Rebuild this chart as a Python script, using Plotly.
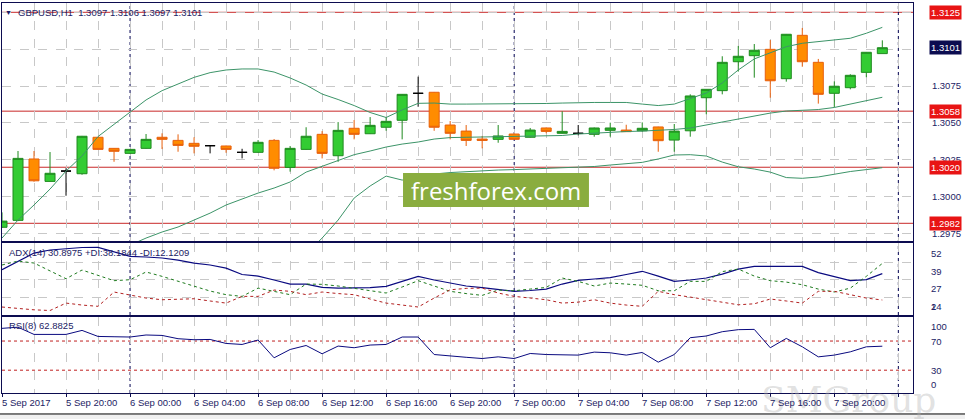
import pandas as pd
import plotly.graph_objects as go
from plotly.subplots import make_subplots

# GBPUSD H1, one bar per hour from 5 Sep 16:00 to 7 Sep 23:00
times = pd.date_range("2017-09-05 16:00", periods=56, freq="h")

opens = [1.29793, 1.29840, 1.30256, 1.30104, 1.30174, 1.30156, 1.30403, 1.30328, 1.30294, 1.30328,
         1.30403, 1.30382, 1.30362, 1.30346, 1.30344, 1.30301, 1.30301, 1.30382, 1.30199, 1.30321,
         1.30423, 1.30278, 1.30464, 1.30427, 1.30471, 1.30518, 1.30701, 1.30708, 1.30486, 1.30445,
         1.30391, 1.30389, 1.30425, 1.30403, 1.30466, 1.30430, 1.30430, 1.30423, 1.30450, 1.30452,
         1.30447, 1.30473, 1.30384, 1.30447, 1.30671, 1.30719, 1.30915, 1.30956, 1.30999, 1.30800,
         1.31094, 1.30911, 1.30701, 1.30739, 1.30843, 1.30970]
highs = [1.29894, 1.30310, 1.30310, 1.30303, 1.30193, 1.30412, 1.30405, 1.30330, 1.30323, 1.30425,
         1.30430, 1.30423, 1.30403, 1.30346, 1.30346, 1.30325, 1.30384, 1.30391, 1.30344, 1.30471,
         1.30445, 1.30506, 1.30520, 1.30540, 1.30540, 1.30696, 1.30814, 1.30710, 1.30513, 1.30486,
         1.30412, 1.30486, 1.30427, 1.30466, 1.30469, 1.30579, 1.30486, 1.30469, 1.30502, 1.30488,
         1.30504, 1.30475, 1.30493, 1.30694, 1.30730, 1.30952, 1.31022, 1.31035, 1.31062, 1.31103,
         1.31144, 1.30934, 1.30782, 1.30830, 1.30981, 1.31060]
lows = [1.29788, 1.29835, 1.30102, 1.30103, 1.30007, 1.30149, 1.30318, 1.30237, 1.30290, 1.30326,
        1.30323, 1.30305, 1.30294, 1.30294, 1.30298, 1.30260, 1.30299, 1.30179, 1.30170, 1.30319,
        1.30260, 1.30237, 1.30389, 1.30425, 1.30447, 1.30389, 1.30610, 1.30447, 1.30389, 1.30344,
        1.30328, 1.30366, 1.30387, 1.30401, 1.30430, 1.30428, 1.30416, 1.30407, 1.30407, 1.30441,
        1.30441, 1.30305, 1.30305, 1.30407, 1.30559, 1.30694, 1.30848, 1.30807, 1.30671, 1.30780,
        1.30881, 1.30631, 1.30606, 1.30728, 1.30810, 1.30970]
closes = [1.29835, 1.30260, 1.30108, 1.30159, 1.30174, 1.30410, 1.30321, 1.30308, 1.30321, 1.30389,
          1.30389, 1.30348, 1.30342, 1.30346, 1.30321, 1.30301, 1.30369, 1.30193, 1.30328, 1.30410,
          1.30294, 1.30450, 1.30423, 1.30484, 1.30511, 1.30694, 1.30701, 1.30471, 1.30430, 1.30382,
          1.30382, 1.30412, 1.30389, 1.30452, 1.30443, 1.30443, 1.30430, 1.30466, 1.30466, 1.30441,
          1.30464, 1.30380, 1.30445, 1.30683, 1.30728, 1.30911, 1.30952, 1.30993, 1.30786, 1.31101,
          1.30915, 1.30694, 1.30749, 1.30823, 1.30979, 1.31010]

# Bollinger bands
bb_upper = [1.29720, 1.29842, 1.29944, 1.30052, 1.30174, 1.30276, 1.30408, 1.30492, 1.30576, 1.30656,
            1.30719, 1.30764, 1.30809, 1.30841, 1.30859, 1.30866, 1.30866, 1.30845, 1.30805, 1.30757,
            1.30696, 1.30659, 1.30618, 1.30571, 1.30537, 1.30588, 1.30633, 1.30635, 1.30628, 1.30628,
            1.30628, 1.30628, 1.30628, 1.30628, 1.30632, 1.30635, 1.30639, 1.30639, 1.30639, 1.30639,
            1.30628, 1.30618, 1.30628, 1.30667, 1.30703, 1.30771, 1.30859, 1.30934, 1.30974, 1.31017,
            1.31040, 1.31051, 1.31062, 1.31074, 1.31108, 1.31148]
bb_middle = [None] * 8 + [
            1.29672, 1.29720,
            1.29761, 1.29795, 1.29842, 1.29889, 1.29944, 1.29984, 1.30025, 1.30059, 1.30100, 1.30167,
            1.30208, 1.30249, 1.30285, 1.30310, 1.30337, 1.30357, 1.30371, 1.30391, 1.30401, 1.30403,
            1.30405, 1.30405, 1.30407, 1.30409, 1.30412, 1.30415, 1.30425, 1.30432, 1.30439, 1.30442,
            1.30445, 1.30449, 1.30456, 1.30466, 1.30486, 1.30506, 1.30527, 1.30547, 1.30567, 1.30581,
            1.30588, 1.30591, 1.30605, 1.30628, 1.30649, 1.30674]
bb_lower = [None] * 19 + [
            1.29612,
            1.29720, 1.29842, 1.29991, 1.30073, 1.30140, 1.30113, 1.30134, 1.30154, 1.30164, 1.30171,
            1.30178, 1.30181, 1.30184, 1.30188, 1.30191, 1.30195, 1.30198, 1.30205, 1.30215, 1.30225,
            1.30233, 1.30256, 1.30283, 1.30285, 1.30276, 1.30235, 1.30203, 1.30188, 1.30167, 1.30130,
            1.30125, 1.30134, 1.30154, 1.30171, 1.30184, 1.30197]

adx = [33.7, 39.9, 45.6, 47.8, 48.5, 49.6, 49.7, 46.4, 43.3, 42.8,
       42.1, 40.6, 38.5, 37.1, 34.9, 30.3, 29.2, 26.4, 23.5, 23.5,
       21.1, 20.6, 20.6, 21.0, 21.9, 25.6, 29.0, 26.4, 24.2, 22.1,
       21.0, 19.9, 18.3, 18.9, 19.9, 23.5, 26.1, 27.1, 28.1, 30.3,
       32.6, 29.2, 25.4, 26.4, 27.8, 30.6, 34.2, 36.1, 36.1, 36.1,
       36.1, 31.7, 28.9, 26.0, 26.7, 30.9]
plus_di = [37.1, 39.9, 38.5, 32.8, 27.3, 33.5, 29.9, 25.9, 26.6, 32.1,
           29.0, 25.6, 22.1, 18.5, 15.9, 14.7, 20.6, 18.1, 15.9, 23.5,
           23.3, 22.1, 20.6, 18.9, 17.1, 21.4, 25.9, 22.1, 18.3, 16.7,
           15.4, 19.2, 18.7, 19.9, 21.1, 27.8, 25.4, 22.1, 24.2, 23.5,
           22.6, 18.7, 18.7, 25.4, 25.4, 32.4, 34.2, 29.2, 25.9, 24.9,
           23.0, 19.9, 17.8, 20.6, 29.0, 38.2]
minus_di = [7.1, 6.0, 5.1, 4.6, 9.9, 8.5, 7.6, 17.8, 15.4, 13.5,
            12.3, 12.8, 13.0, 11.4, 9.9, 14.7, 14.7, 19.2, 18.3, 15.9,
            17.8, 16.7, 15.9, 12.8, 9.9, 8.5, 7.1, 13.5, 19.4, 20.4,
            20.6, 17.1, 14.7, 13.5, 12.3, 9.9, 10.6, 12.3, 9.9, 8.5,
            7.6, 18.3, 15.9, 14.2, 12.3, 10.6, 8.7, 9.4, 12.8, 11.4,
            9.9, 18.3, 18.3, 15.9, 13.5, 12.1]
rsi = [87.4, 89.0, 79.1, 79.1, 79.1, 84.6, 76.3, 75.9, 75.5, 78.3,
       77.7, 73.2, 71.8, 72.2, 66.7, 65.3, 71.4, 47.0, 58.4, 63.9,
       52.5, 63.1, 60.8, 64.5, 65.3, 75.5, 75.5, 51.5, 49.3, 47.7,
       46.0, 48.3, 46.0, 52.9, 51.5, 51.5, 50.7, 54.8, 53.9, 50.7,
       54.3, 41.0, 51.5, 74.6, 76.9, 82.8, 85.6, 86.0, 60.8, 73.6,
       62.1, 48.3, 50.7, 55.2, 62.1, 62.9]

levels = [1.3125, 1.3058, 1.3020, 1.2982]
last_price = 1.3101
price_ticks = [1.2975, 1.3000, 1.3025, 1.3050, 1.3075, 1.3100, 1.3125]
adx_labels = [52, 39, 27, 14]
rsi_levels = [70, 30]
day_marks = ["2017-09-06 00:00", "2017-09-07 00:00", "2017-09-08 00:00"]
tick_times = ["2017-09-05 16:00", "2017-09-05 20:00", "2017-09-06 00:00", "2017-09-06 04:00",
              "2017-09-06 08:00", "2017-09-06 12:00", "2017-09-06 16:00", "2017-09-06 20:00",
              "2017-09-07 00:00", "2017-09-07 04:00", "2017-09-07 08:00", "2017-09-07 12:00",
              "2017-09-07 16:00", "2017-09-07 20:00"]
tick_text = ["5 Sep 2017", "5 Sep 20:00", "6 Sep 00:00", "6 Sep 04:00", "6 Sep 08:00",
             "6 Sep 12:00", "6 Sep 16:00", "6 Sep 20:00", "7 Sep 00:00", "7 Sep 04:00",
             "7 Sep 08:00", "7 Sep 12:00", "7 Sep 16:00", "7 Sep 20:00"]

NAVY = "#1c1c64"
AXIS = "#0c0c50"
GRID = "#c8c8c8"
RED = "#c82828"
FONT = "Liberation Sans"

fig = make_subplots(rows=3, cols=1, shared_xaxes=True, vertical_spacing=0.01)

# candles: bullish, bearish and doji bars as separate traces
kinds = [
    ("up", lambda o, c: c > o, "#33cc33", "#1f8a1f"),
    ("down", lambda o, c: c < o, "#ff8c00", "#e8600c"),
    ("doji", lambda o, c: c == o, "#000000", "#000000"),
]
for name, test, fill, edge in kinds:
    idx = [i for i in range(len(times)) if test(opens[i], closes[i])]
    style = dict(line=dict(color=edge, width=1), fillcolor=fill)
    fig.add_trace(go.Candlestick(
        x=[times[i] for i in idx],
        open=[opens[i] for i in idx], high=[highs[i] for i in idx],
        low=[lows[i] for i in idx], close=[closes[i] for i in idx],
        increasing=style, decreasing=style, whiskerwidth=0,
        name=name, showlegend=False), row=1, col=1)

for band in [bb_upper, bb_middle, bb_lower]:
    fig.add_trace(go.Scatter(x=times, y=band, mode="lines",
                             line=dict(color="#3c9468", width=1), showlegend=False), row=1, col=1)

fig.add_trace(go.Scatter(x=times, y=adx, mode="lines",
                         line=dict(color="#0a0a80", width=1.2)), row=2, col=1)
fig.add_trace(go.Scatter(x=times, y=plus_di, mode="lines",
                         line=dict(color="#1e7b1e", width=1, dash="3px,3px")), row=2, col=1)
fig.add_trace(go.Scatter(x=times, y=minus_di, mode="lines",
                         line=dict(color="#b22020", width=1, dash="3px,3px")), row=2, col=1)
fig.add_trace(go.Scatter(x=times, y=rsi, mode="lines",
                         line=dict(color="#0a0a80", width=1)), row=3, col=1)

fig.update_layout(
    width=965, height=419,
    margin=dict(l=2, r=52, t=3, b=26),
    paper_bgcolor="white", plot_bgcolor="white",
    showlegend=False, hovermode=False,
    boxgap=0.375, boxgroupgap=0,
    font=dict(family=FONT, size=9.5, color=NAVY),
)

fig.update_xaxes(
    range=["2017-09-05 16:00", "2017-09-08 00:55"],
    showline=True, mirror=True, linecolor=AXIS, linewidth=1,
    tick0="2017-09-05 16:00", dtick=4 * 3600 * 1000,
    showgrid=True, gridcolor=GRID, griddash="dash", gridwidth=1,
    minor=dict(dtick=2 * 3600 * 1000, showgrid=True, gridcolor=GRID, griddash="dash"),
    showticklabels=False, ticks="", zeroline=False,
    rangeslider_visible=False,
)
fig.update_xaxes(ticks="outside", ticklen=3, tickcolor=AXIS, row=3, col=1)

fig.update_layout(
    yaxis=dict(domain=[0.3897, 1], range=[1.29700, 1.31313], side="right",
               tickvals=price_ticks, tickformat=".4f", ticklabelstandoff=16,
               tickfont=dict(color=NAVY, size=9.5, family=FONT),
               showgrid=True, gridcolor=GRID, griddash="dash",
               showline=True, mirror=True, linecolor=AXIS, zeroline=False),
    yaxis2=dict(domain=[0.2, 0.3846], range=[1.4, 52.8], side="right",
                tickvals=[14, 27, 39], showticklabels=False,
                showgrid=True, gridcolor=GRID, griddash="dash",
                showline=True, mirror=True, linecolor=AXIS, zeroline=False),
    yaxis3=dict(domain=[0, 0.1949], range=[-1.3, 103], side="right",
                showticklabels=False, showgrid=False,
                showline=True, mirror=True, linecolor=AXIS, zeroline=False),
)

shapes = []
for lvl in levels:
    shapes.append(dict(type="line", xref="paper", x0=0, x1=1, yref="y", y0=lvl, y1=lvl,
                       line=dict(color=RED, width=1), layer="below"))
for lvl in rsi_levels:
    shapes.append(dict(type="line", xref="paper", x0=0, x1=1, yref="y3", y0=lvl, y1=lvl,
                       line=dict(color="#c02020", width=1, dash="3px,3px"), layer="below"))
for d in day_marks:
    shapes.append(dict(type="line", xref="x", x0=d, x1=d, yref="paper", y0=0, y1=1,
                       line=dict(color="#000050", width=1, dash="3px,3px"), layer="below"))
# watermark box
shapes.append(dict(type="rect", xref="paper", x0=0.4402, x1=0.6443, yref="paper",
                   y0=0.4769, y1=0.5641, fillcolor="#8aad3f", line=dict(width=0), layer="above"))
# bottom tab strip
shapes.append(dict(type="rect", xref="paper", x0=-0.01, x1=1.07, yref="paper",
                   y0=-0.08, y1=-0.0538, fillcolor="#f0f0f0",
                   line=dict(color="#000000", width=1), layer="above"))
fig.update_layout(shapes=shapes)

ann = []
for lvl in levels:
    ann.append(dict(xref="paper", x=1.0176, yref="y", y=lvl, text=f"{lvl:.4f}",
                    xanchor="left", yanchor="middle", showarrow=False, bgcolor="#e81414",
                    borderpad=1, font=dict(color="white", size=9.5, family=FONT)))
ann.append(dict(xref="paper", x=1.0176, yref="y", y=last_price, text=f"{last_price:.4f}",
                xanchor="left", yanchor="middle", showarrow=False, bgcolor="#0c0c50",
                borderpad=1, font=dict(color="white", size=9.5, family=FONT)))
for v in adx_labels:
    ann.append(dict(xref="paper", x=1.0181, yref="y2", y=v, text=str(v), yshift=-2,
                    xanchor="left", yanchor="top", showarrow=False))
ann.append(dict(xref="paper", x=1.0181, yref="y2", y=2, text="2",
                xanchor="left", yanchor="bottom", showarrow=False))
ann.append(dict(xref="paper", x=1.0181, yref="y3", y=100, text="100",
                xanchor="left", yanchor="top", showarrow=False))
for v in rsi_levels:
    ann.append(dict(xref="paper", x=1.0181, yref="y3", y=v, text=str(v),
                    xanchor="left", yanchor="middle", showarrow=False))
ann.append(dict(xref="paper", x=1.0181, yref="y3", y=0, text="0",
                xanchor="left", yanchor="bottom", showarrow=False))

# panel headers
ann.append(dict(xref="paper", x=0.0069, yref="paper", y=0.9769, text="▼",
                xanchor="center", yanchor="middle", showarrow=False, font=dict(size=7, color=NAVY)))
ann.append(dict(xref="paper", x=0.0165, yref="paper", y=0.9769,
                text="GBPUSD,H1  1.3097 1.3106 1.3097 1.3101", xshift=-1,
                xanchor="left", yanchor="middle", showarrow=False))
ann.append(dict(xref="paper", x=0.0055, yref="paper", y=0.3615,
                text="ADX(14) 30.8975 +DI:38.1844 -DI:12.1209",
                xanchor="left", yanchor="middle", showarrow=False))
ann.append(dict(xref="paper", x=0.0055, yref="paper", y=0.1718, text="RSI(8) 62.8825",
                xanchor="left", yanchor="middle", showarrow=False))

ann.append(dict(xref="paper", x=0.5423, yref="paper", y=0.5205, text="freshforex.com",
                xanchor="center", yanchor="middle", showarrow=False,
                font=dict(family="Open Sans", size=24, color="white")))
ann.append(dict(xref="paper", x=0.9287, yref="paper", y=-0.0154, text="SMGroup",
                xanchor="center", yanchor="middle", showarrow=False,
                font=dict(family="DejaVu Serif", size=36, color="rgba(180,180,180,0.4)")))

for t, label in zip(tick_times, tick_text):
    ann.append(dict(xref="x3", x=t, yref="paper", y=-0.0256, text=label, xshift=-2,
                    xanchor="left", yanchor="middle", showarrow=False))

fig.update_layout(annotations=ann)

# the page body keeps its default 8px margin otherwise, which pushes the figure off-canvas
fig.write_html("out.html", config={"displayModeBar": False},
               post_script="document.body.style.margin='0px';")
